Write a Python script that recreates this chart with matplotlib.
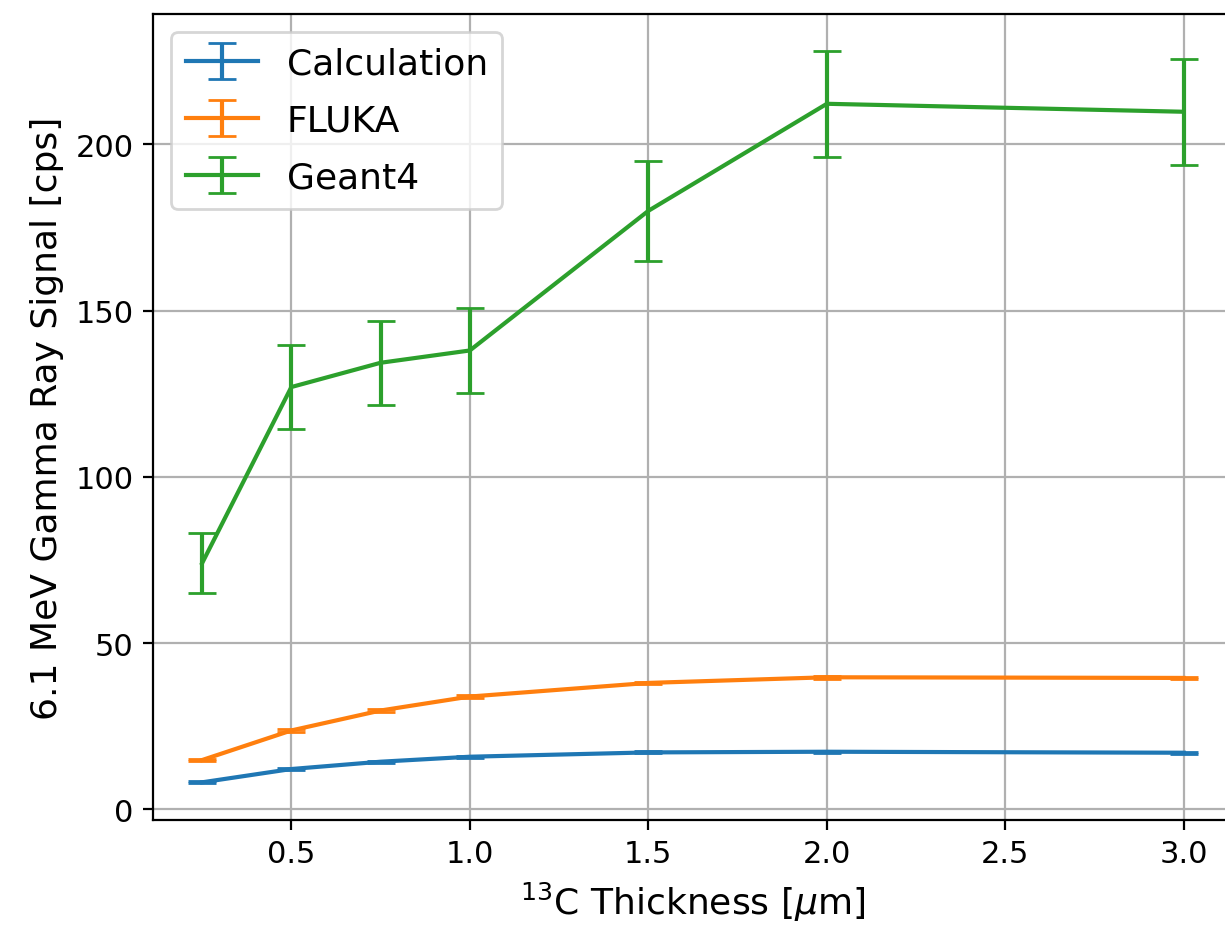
import numpy as np
import matplotlib.pyplot as plt

# 13C target thickness [um]
thickness = [0.25, 0.5, 0.75, 1.0, 1.5, 2.0, 3.0]

# 6.1 MeV gamma signal [cps]
calc = [8.1, 12.1, 14.3, 15.8, 17.1, 17.3, 17.0]
calc_err = [0.3, 0.3, 0.3, 0.3, 0.3, 0.3, 0.3]

fluka = [14.8, 23.7, 29.7, 33.9, 38.0, 39.7, 39.5]
fluka_err = [0.4, 0.4, 0.4, 0.4, 0.4, 0.4, 0.4]

geant4 = [74.0, 127.0, 134.3, 138.0, 180.0, 212.2, 209.8]
geant4_err = [9.0, 12.5, 12.7, 12.8, 15.0, 16.0, 16.0]

fig = plt.figure(figsize=(6.125, 4.645), dpi=200)
ax = fig.add_axes([0.1249, 0.1163, 0.8816, 0.8676])

ax.errorbar(thickness, calc, yerr=calc_err, capsize=5, label='Calculation')
ax.errorbar(thickness, fluka, yerr=fluka_err, capsize=5, label='FLUKA')
ax.errorbar(thickness, geant4, yerr=geant4_err, capsize=5, label='Geant4')

ax.set_xlabel(r'$^{13}$C Thickness [$\mu$m]', fontsize=13)
ax.set_ylabel('6.1 MeV Gamma Ray Signal [cps]', fontsize=13)
ax.tick_params(labelsize=11)
ax.legend(loc='upper left', fontsize=13, labelspacing=0.64)
ax.grid(True)

fig.savefig('out.png', dpi=200)
